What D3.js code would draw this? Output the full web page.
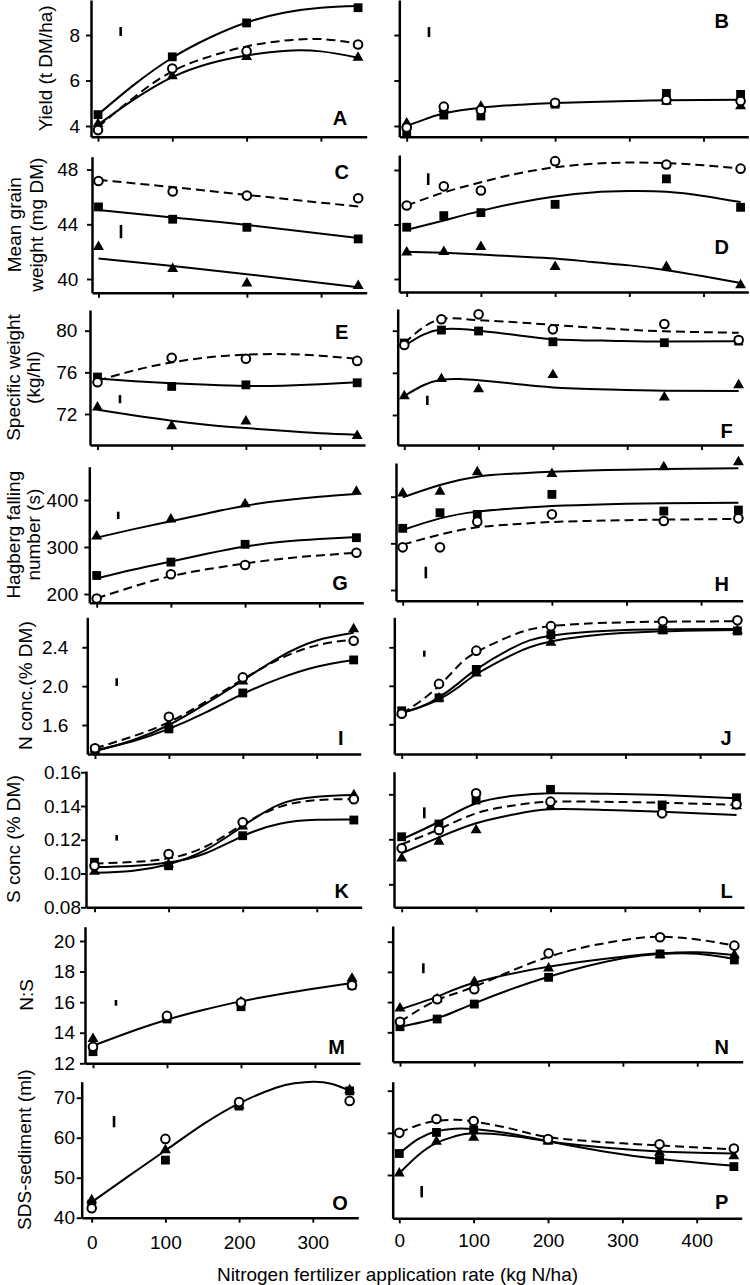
<!DOCTYPE html>
<html><head><meta charset="utf-8">
<script src="https://cdn.jsdelivr.net/npm/d3@7"></script>
<style>
body{margin:0;background:#fff;}
svg{display:block;font-family:"Liberation Sans",Arial,Helvetica,sans-serif;}
</style></head><body>
<svg id="chart" width="750" height="1285"></svg>
<script>
// ---------------- DATA ----------------
const xLeft = [0, 100, 200, 350];
const xRight = [0, 50, 100, 200, 350, 450];
const xTicksLeft = [0, 100, 200, 300];
const xTicksRight = [0, 100, 200, 300, 400];
const xTitle = "Nitrogen fertilizer application rate (kg N/ha)";

// A  Yield (t DM/ha)
const A_sq = [4.5, 7.04, 8.53, 9.2];
const A_ci = [3.82, 6.53, 7.29, 7.58];
const A_tr = [4.09, 6.19, 7.04, 7.01];
const A_fitX = [0, 50, 100, 150, 200, 250, 300, 350];
const A_fitSq = [4.5, 5.85, 7.0, 7.88, 8.55, 8.98, 9.2, 9.27];
const A_fitCi = [3.95, 5.3, 6.4, 7.05, 7.5, 7.75, 7.82, 7.62];
const A_fitTr = [4.05, 5.2, 6.15, 6.75, 7.1, 7.3, 7.28, 7.0];
const A_lsd = [30.5, 7.96, 8.35];
// B
const B_sq = [3.68, 4.48, 4.44, 4.96, 5.43, 5.39];
const B_ci = [3.93, 4.85, 4.7, 5.02, 5.14, 5.1];
const B_tr = [4.12, 4.75, 4.85, 4.98, 5.07, 4.88];
const B_fitX = [0, 25, 50, 100, 150, 200, 300, 350, 450];
const B_fit = [4.0, 4.3, 4.55, 4.8, 4.93, 5.01, 5.1, 5.13, 5.15];
const B_lsd = [30, 7.91, 8.35];
// C  Mean grain weight
const C_sq = [45.27, 44.37, 43.78, 42.93];
const C_ci = [47.17, 46.4, 46.1, 45.9];
const C_tr = [42.36, 40.75, 39.68, 39.5];
const C_fitX = [0, 100, 200, 350];
const C_fitSq = [45.05, 44.5, 43.95, 43.0];
const C_fitCi = [47.25, 46.72, 46.15, 45.3];
const C_fitTr = [41.5, 40.95, 40.35, 39.4];
const C_lsd = [30.3, 42.98, 43.95];
// D
const D_sq = [43.8, 44.65, 44.87, 45.48, 47.35, 45.26];
const D_ci = [45.4, 46.8, 46.5, 48.65, 48.4, 48.1];
const D_tr = [41.96, 42.0, 42.36, 40.9, 40.9, 39.55];
const D_fitX = [0, 50, 100, 150, 200, 250, 300, 350, 400, 450];
const D_fitSq = [43.6, 44.3, 45.0, 45.6, 46.05, 46.35, 46.45, 46.4, 46.1, 45.65];
const D_fitCi = [45.4, 46.35, 47.1, 47.75, 48.2, 48.45, 48.55, 48.5, 48.35, 48.1];
const D_fitTr = [42.0, 41.92, 41.8, 41.65, 41.5, 41.25, 41.0, 40.65, 40.2, 39.7];
const D_lsd = [29, 46.9, 47.76];
// E  Specific weight
const E_sq = [75.55, 74.65, 74.8, 75.0];
const E_ci = [75.05, 77.4, 77.3, 77.1];
const E_tr = [72.64, 70.85, 71.3, 69.9];
const E_fitX = [0, 50, 100, 150, 200, 250, 300, 350];
const E_fitSq = [75.4, 75.15, 74.95, 74.8, 74.7, 74.72, 74.85, 75.05];
const E_fitCi = [75.2, 76.2, 76.95, 77.45, 77.7, 77.75, 77.6, 77.3];
const E_fitTr = [72.4, 71.85, 71.35, 70.95, 70.65, 70.38, 70.15, 70.0];
const E_lsd = [30.3, 73.03, 73.82];
// F
const F_sq = [78.83, 80.06, 79.97, 78.95, 78.86, 79.02];
const F_ci = [78.64, 81.08, 81.55, 80.13, 80.63, 79.12];
const F_tr = [73.8, 75.42, 74.47, 75.8, 73.68, 74.85];
const F_fitX = [0, 25, 50, 75, 100, 150, 200, 275, 350, 450];
const F_fitSq = [78.55, 79.6, 80.13, 80.15, 80.0, 79.6, 79.2, 79.05, 78.97, 79.0];
const F_fitCi = [78.8, 80.3, 81.1, 81.15, 81.0, 80.8, 80.55, 80.2, 79.95, 79.8];
const F_fitTr = [73.8, 74.8, 75.35, 75.42, 75.3, 74.95, 74.62, 74.42, 74.3, 74.28];
const F_lsd = [31, 72.95, 73.83];
// G  Hagberg falling number
const G_sq = [239.4, 267.9, 305.7, 319.8];
const G_ci = [190.4, 242, 261.7, 287.8];
const G_tr = [322.7, 358.9, 391.5, 418];
const G_fitX = [0, 50, 100, 150, 200, 250, 300, 350];
const G_fitSq = [233, 252, 269, 286, 301, 311, 317, 321];
const G_fitCi = [191, 216, 238, 253, 265, 275, 282, 288];
const G_fitTr = [320, 338, 355, 372, 388, 399, 407, 413];
const G_lsd = [29, 359.6, 375.1];
// H
const H_sq = [332.2, 365.6, 362, 405, 369.2, 371.4];
const H_ci = [291.4, 291.4, 346.5, 362.2, 348, 353.6];
const H_tr = [407, 410.7, 452.6, 449, 463.3, 474];
const H_fitX = [0, 50, 100, 150, 200, 275, 350, 450];
const H_fitSq = [328.6, 353.6, 368, 375, 380, 384, 386, 387];
const H_fitCi = [297.3, 318.7, 334.4, 341, 345.8, 349, 350.8, 352.3];
const H_fitTr = [398.6, 425, 443, 449.5, 453.6, 457, 459.4, 460.8];
const H_lsd = [31, 225, 250];
// I  N conc.
const I_sq = [1.35, 1.56, 1.93, 2.27];
const I_ci = [1.36, 1.684, 2.09, 2.468];
const I_tr = [1.35, 1.6, 2.05, 2.588];
const I_fitX = [0, 50, 100, 150, 200, 250, 300, 350];
const I_fitSq = [1.34, 1.43, 1.56, 1.73, 1.92, 2.08, 2.2, 2.27];
const I_fitCi = [1.36, 1.48, 1.63, 1.84, 2.07, 2.28, 2.42, 2.48];
const I_fitTr = [1.33, 1.44, 1.6, 1.82, 2.06, 2.3, 2.47, 2.55];
const I_lsd = [29.4, 2.002, 2.081];
// J
const J_sq = [1.74, 1.875, 2.17, 2.53, 2.58, 2.57];
const J_ci = [1.71, 2.02, 2.365, 2.62, 2.67, 2.68];
const J_tr = [1.72, 1.87, 2.13, 2.45, 2.57, 2.57];
const J_fitX = [0, 25, 50, 75, 100, 150, 200, 300, 450];
const J_fitSq = [1.72, 1.78, 1.88, 2.02, 2.17, 2.4, 2.52, 2.58, 2.59];
const J_fitCi = [1.71, 1.84, 2.0, 2.2, 2.35, 2.53, 2.62, 2.66, 2.67];
const J_fitTr = [1.72, 1.78, 1.86, 1.98, 2.12, 2.33, 2.46, 2.55, 2.58];
const J_lsd = [30.3, 2.302, 2.365];
// K  S conc.
const K_sq = [0.1067, 0.1046, 0.1224, 0.1317];
const K_ci = [0.1046, 0.1116, 0.1304, 0.144];
const K_tr = [0.1011, 0.1055, 0.128, 0.1465];
const K_fitX = [0, 50, 100, 150, 200, 250, 300, 350];
const K_fitSq = [0.1038, 0.1045, 0.1065, 0.112, 0.1222, 0.1295, 0.1318, 0.132];
const K_fitCi = [0.106, 0.1068, 0.109, 0.116, 0.129, 0.1395, 0.1435, 0.144];
const K_fitTr = [0.1005, 0.1015, 0.1055, 0.114, 0.128, 0.141, 0.1455, 0.1465];
const K_lsd = [30, 0.1195, 0.1228];
// L
const L_sq = [0.1217, 0.1302, 0.1462, 0.1533, 0.1429, 0.1477];
const L_ci = [0.114, 0.1262, 0.1507, 0.1451, 0.1373, 0.1433];
const L_tr = [0.1073, 0.1184, 0.1262, 0.1417, 0.1382, 0.1422];
const L_fitX = [0, 50, 100, 150, 200, 275, 350, 450];
const L_fitSq = [0.12, 0.1317, 0.144, 0.149, 0.1507, 0.1503, 0.1495, 0.1473];
const L_fitCi = [0.1167, 0.1267, 0.1373, 0.1425, 0.1451, 0.145, 0.1444, 0.1429];
const L_fitTr = [0.1107, 0.1213, 0.1307, 0.1365, 0.14, 0.1395, 0.1384, 0.1362];
const L_lsd = [30.4, 0.134, 0.1413];
// M  N:S
const M_sq = [12.76, 14.9, 15.7, 17.1];
const M_ci = [13.08, 15.1, 15.97, 17.1];
const M_tr = [13.6, 15.0, 16.0, 17.55];
const M_fitX = [0, 50, 100, 150, 200, 250, 300, 350];
const M_fit = [13.15, 14.05, 14.85, 15.5, 16.05, 16.5, 16.9, 17.25];
const M_lsd = [31, 15.77, 16.14];
// N
const N_sq = [14.37, 14.88, 15.87, 17.64, 19.19, 18.79];
const N_ci = [14.7, 16.19, 16.85, 19.23, 20.29, 19.74];
const N_tr = [15.59, 16.2, 17.35, 18.24, 19.12, 19.12];
const N_fitX = [0, 50, 100, 200, 300, 350, 400, 450];
const N_fitSq = [14.37, 14.93, 15.92, 17.68, 18.9, 19.19, 19.2, 18.85];
const N_fitCi = [14.7, 16.14, 17.02, 19.0, 20.1, 20.33, 20.15, 19.74];
const N_fitTr = [15.52, 16.36, 17.28, 18.34, 19.0, 19.23, 19.3, 19.12];
const N_lsd = [31.4, 17.91, 18.57];
// O  SDS-sediment
const O_sq = [43.4, 54.4, 67.9, 71.7];
const O_ci = [42.35, 59.7, 68.9, 69.2];
const O_tr = [44.4, 56.9, 68.0, 71.9];
const O_fitX = [0, 50, 100, 150, 200, 250, 275, 300, 325, 350];
const O_fit = [43.9, 50.4, 56.8, 63.2, 68.6, 72.5, 73.6, 74.0, 73.5, 71.8];
const O_lsd = [30.3, 62.6, 65.4];
// P
const P_sq = [55.1, 60.1, 60.7, 58.3, 53.6, 52.0];
const P_ci = [60.0, 63.3, 62.8, 58.5, 57.3, 56.3];
const P_tr = [50.4, 57.9, 58.9, 58.0, 55.3, 54.5];
const P_fitX = [0, 25, 50, 75, 100, 150, 200, 275, 350, 450];
const P_fitSq = [55.1, 58.5, 60.4, 61.0, 60.9, 59.8, 58.0, 55.6, 53.8, 52.2];
const P_fitCi = [60.0, 61.8, 62.8, 63.1, 62.7, 61.0, 59.0, 57.8, 57.0, 56.1];
const P_fitTr = [50.4, 54.6, 57.6, 59.2, 59.9, 59.3, 58.0, 56.5, 55.6, 55.1];
const P_lsd = [30.1, 44.7, 47.4];

const yTitles = [
  {panel: "A", lines: ["Yield (t DM/ha)"], x: [51.5]},
  {panel: "C", lines: ["Mean grain", "weight (mg DM)"], x: [21, 42.5]},
  {panel: "E", lines: ["Specific weight", "(kg/hl)"], x: [20, 40.3]},
  {panel: "G", lines: ["Hagberg falling", "number (s)"], x: [20, 40]},
  {panel: "I", lines: ["N conc.(% DM)"], x: [32.3]},
  {panel: "K", lines: ["S conc (% DM)"], x: [19.5]},
  {panel: "M", lines: ["N:S"], x: [32.8]},
  {panel: "O", lines: ["SDS-sediment (ml)"], x: [31]}
];

// ---------------- LAYOUT ----------------
const layout = [
 {id:"A", col:0, top:0, bottom:136.7, axisX:91, xEnd:366.7, x0:98, per100:74.3, yRef:[8,35,4,126], yTicks:[4,6,8], fmt:"d", labelRight:80, letter:[340,118]},
 {id:"B", col:1, top:0, bottom:136.7, axisX:399.3, xEnd:748.3, x0:406.7, per100:74.2, yRef:[8,35,4,126], yTicks:[4,6,8], letter:[721.7,20.7]},
 {id:"C", col:0, top:156.7, bottom:292.7, axisX:92, xEnd:366.7, x0:98.5, per100:74.2, yRef:[48,169.6,40,279], yTicks:[40,44,48], fmt:"d", labelRight:78.3, letter:[341.7,171.7]},
 {id:"D", col:1, top:155, bottom:292, axisX:399.3, xEnd:748.3, x0:406.7, per100:74.2, yRef:[48,170,40,279], yTicks:[40,44,48], letter:[721.7,247.3]},
 {id:"E", col:0, top:310, bottom:445, axisX:90, xEnd:365, x0:97.5, per100:74.2, yRef:[80,330.7,72,414], yTicks:[72,76,80], fmt:"d", labelRight:77.3, letter:[341.7,331.7]},
 {id:"F", col:1, top:309, bottom:445, axisX:397.7, xEnd:743.3, x0:404.3, per100:74.3, yRef:[80,330.7,72,415], yTicks:[72,76,80], letter:[726.7,430.7]},
 {id:"G", col:0, top:466.7, bottom:602.7, axisX:89.3, xEnd:363.3, x0:96.7, per100:74.2, yRef:[400,500,200,594], yTicks:[200,300,400], fmt:"d", labelRight:78.3, letter:[340,583.3]},
 {id:"H", col:1, top:463, bottom:600.7, axisX:396, xEnd:742.7, x0:402.7, per100:74.6, yRef:[400,496.7,200,590], yTicks:[200,300,400], letter:[721.7,584]},
 {id:"I", col:0, top:617.3, bottom:754, axisX:87.3, xEnd:360.7, x0:95, per100:73.9, yRef:[2.4,647.3,1.6,725], yTicks:[1.6,2.0,2.4], fmt:".1f", labelRight:68.3, letter:[340.7,738]},
 {id:"J", col:1, top:617.3, bottom:754, axisX:394.3, xEnd:745, x0:401.7, per100:74.6, yRef:[2.4,647.3,1.6,724.3], yTicks:[1.6,2.0,2.4], letter:[726,738.3]},
 {id:"K", col:0, top:771, bottom:907.3, axisX:86, xEnd:361.7, x0:94.5, per100:74.1, yRef:[0.14,806,0.08,907.3], yTicks:[0.08,0.10,0.12,0.14,0.16], fmt:".2f", labelRight:81.7, letter:[341.7,890.7]},
 {id:"L", col:1, top:771.7, bottom:907.3, axisX:394, xEnd:744, x0:401.7, per100:74.4, yRef:[0.15,794.3,0.09,884.3], yTicks:[0.09,0.12,0.15], letter:[726.7,890.7]},
 {id:"M", col:0, top:926.7, bottom:1063.3, axisX:85, xEnd:360, x0:93, per100:74, yRef:[20,941,12,1063.3], yTicks:[12,14,16,18,20], fmt:"d", labelRight:75, letter:[336.7,1046.7]},
 {id:"N", col:1, top:926, bottom:1061.7, axisX:392.7, xEnd:742.7, x0:400, per100:74.3, yRef:[20,941.7,14,1032.3], yTicks:[14,16,18,20], letter:[721.7,1046.7]},
 {id:"O", col:0, top:1081.7, bottom:1217.7, axisX:81.7, xEnd:358.3, x0:91.7, per100:73.7, yRef:[70,1097.7,40,1217.7], yTicks:[40,50,60,70], fmt:"d", labelRight:75, letter:[340,1203.3], xLab:true, xLabTop:1235},
 {id:"P", col:1, top:1081.7, bottom:1218.3, axisX:392.7, xEnd:741.7, x0:399.3, per100:74.35, yRef:[70,1090.7,50,1175], yTicks:[50,60,70], letter:[721.7,1201.7], xLab:true, xLabTop:1233.3}
];

const D_ = {
 A:{x:xLeft, sq:A_sq, ci:A_ci, tr:A_tr, fitX:A_fitX, fits:[[A_fitSq,0],[A_fitCi,1],[A_fitTr,0]], lsd:A_lsd},
 B:{x:xRight, sq:B_sq, ci:B_ci, tr:B_tr, fitX:B_fitX, fits:[[B_fit,0]], lsd:B_lsd},
 C:{x:xLeft, sq:C_sq, ci:C_ci, tr:C_tr, fitX:C_fitX, fits:[[C_fitSq,0],[C_fitCi,1],[C_fitTr,0]], lsd:C_lsd},
 D:{x:xRight, sq:D_sq, ci:D_ci, tr:D_tr, fitX:D_fitX, fits:[[D_fitSq,0],[D_fitCi,1],[D_fitTr,0]], lsd:D_lsd},
 E:{x:xLeft, sq:E_sq, ci:E_ci, tr:E_tr, fitX:E_fitX, fits:[[E_fitSq,0],[E_fitCi,1],[E_fitTr,0]], lsd:E_lsd},
 F:{x:xRight, sq:F_sq, ci:F_ci, tr:F_tr, fitX:F_fitX, fits:[[F_fitSq,0],[F_fitCi,1],[F_fitTr,0]], lsd:F_lsd},
 G:{x:xLeft, sq:G_sq, ci:G_ci, tr:G_tr, fitX:G_fitX, fits:[[G_fitSq,0],[G_fitCi,1],[G_fitTr,0]], lsd:G_lsd},
 H:{x:xRight, sq:H_sq, ci:H_ci, tr:H_tr, fitX:H_fitX, fits:[[H_fitSq,0],[H_fitCi,1],[H_fitTr,0]], lsd:H_lsd},
 I:{x:xLeft, sq:I_sq, ci:I_ci, tr:I_tr, fitX:I_fitX, fits:[[I_fitSq,0],[I_fitCi,1],[I_fitTr,0]], lsd:I_lsd},
 J:{x:xRight, sq:J_sq, ci:J_ci, tr:J_tr, fitX:J_fitX, fits:[[J_fitSq,0],[J_fitCi,1],[J_fitTr,0]], lsd:J_lsd},
 K:{x:xLeft, sq:K_sq, ci:K_ci, tr:K_tr, fitX:K_fitX, fits:[[K_fitSq,0],[K_fitCi,1],[K_fitTr,0]], lsd:K_lsd},
 L:{x:xRight, sq:L_sq, ci:L_ci, tr:L_tr, fitX:L_fitX, fits:[[L_fitSq,0],[L_fitCi,1],[L_fitTr,0]], lsd:L_lsd},
 M:{x:xLeft, sq:M_sq, ci:M_ci, tr:M_tr, fitX:M_fitX, fits:[[M_fit,0]], lsd:M_lsd},
 N:{x:xRight, sq:N_sq, ci:N_ci, tr:N_tr, fitX:N_fitX, fits:[[N_fitSq,0],[N_fitCi,1],[N_fitTr,0]], lsd:N_lsd},
 O:{x:xLeft, sq:O_sq, ci:O_ci, tr:O_tr, fitX:O_fitX, fits:[[O_fit,0]], lsd:O_lsd},
 P:{x:xRight, sq:P_sq, ci:P_ci, tr:P_tr, fitX:P_fitX, fits:[[P_fitSq,0],[P_fitCi,1],[P_fitTr,0]], lsd:P_lsd}
};

// ---------------- DRAW ----------------
const svg = d3.select("#chart");
const TICK = 5, FS_TICK = 19, FS_TITLE = 19;

layout.forEach(p => {
  const d = D_[p.id];
  const yRaw = d3.scaleLinear().domain([p.yRef[0], p.yRef[2]]).range([p.yRef[1], p.yRef[3]]);
  const y = d3.scaleLinear().domain([yRaw.invert(p.bottom), yRaw.invert(p.top)]).range([p.bottom, p.top]);
  const xRaw = d3.scaleLinear().domain([0, 100]).range([p.x0, p.x0 + p.per100]);
  const x = d3.scaleLinear().domain([xRaw.invert(p.axisX), xRaw.invert(p.xEnd)]).range([p.axisX, p.xEnd]);
  const g = svg.append("g");

  // axes
  const yAx = d3.axisLeft(y).tickValues(p.yTicks).tickSize(TICK).tickSizeOuter(0)
    .tickPadding(p.col === 0 ? Math.max(0, p.axisX - TICK - p.labelRight) : 3)
    .tickFormat(p.col === 0 ? d3.format(p.fmt) : () => "");
  const gy = g.append("g").attr("transform", `translate(${p.axisX},0)`).call(yAx);
  const xTicks = p.col === 0 ? xTicksLeft : xTicksRight;
  const xAx = d3.axisBottom(x).tickValues(xTicks).tickSize(TICK).tickSizeOuter(0)
    .tickPadding(p.xLab ? (p.xLabTop - p.bottom - TICK) : 3)
    .tickFormat(p.xLab ? d3.format("d") : () => "");
  const gx = g.append("g").attr("transform", `translate(0,${p.bottom})`).call(xAx);
  [gx, gy].forEach(a => {
    a.select(".domain").attr("stroke", "#000").attr("stroke-width", 2.5);
    a.selectAll(".tick line").attr("stroke", "#000").attr("stroke-width", 1.9);
    a.selectAll(".tick text").attr("font-size", FS_TICK).attr("fill", "#000")
      .attr("font-family", '"Liberation Sans",Arial,sans-serif');
  });
  gx.selectAll(".tick text").attr("dy", "0.72em");

  // fitted curves
  const line = d3.line().curve(d3.curveNatural).x(q => x(q[0])).y(q => y(q[1]));
  d.fits.forEach(([vals, dashed]) => {
    g.append("path").datum(d.fitX.map((xv, i) => [xv, vals[i]]))
      .attr("d", line).attr("fill", "none").attr("stroke", "#000")
      .attr("stroke-width", 2).attr("stroke-dasharray", dashed ? "9,5" : null);
  });

  // LSD bar
  g.append("line").attr("x1", x(d.lsd[0])).attr("x2", x(d.lsd[0]))
    .attr("y1", y(d.lsd[1])).attr("y2", y(d.lsd[2]))
    .attr("stroke", "#000").attr("stroke-width", 2.6);

  // markers
  const sqSym = d3.symbol(d3.symbolSquare, 78);
  const trSym = d3.symbol(d3.symbolTriangle, 52);
  g.selectAll(".sq").data(d.x.map((xv, i) => [xv, d.sq[i]])).join("path")
    .attr("d", sqSym).attr("transform", q => `translate(${x(q[0])},${y(q[1])})`).attr("fill", "#000");
  g.selectAll(".tr").data(d.x.map((xv, i) => [xv, d.tr[i]])).join("path")
    .attr("d", trSym).attr("transform", q => `translate(${x(q[0])},${y(q[1])})`).attr("fill", "#000");
  g.selectAll(".ci").data(d.x.map((xv, i) => [xv, d.ci[i]])).join("circle")
    .attr("cx", q => x(q[0])).attr("cy", q => y(q[1])).attr("r", 4.3)
    .attr("fill", "#fff").attr("stroke", "#000").attr("stroke-width", 2);

  // panel letter
  g.append("text").attr("x", p.letter[0]).attr("y", p.letter[1] + 7)
    .attr("text-anchor", "middle").attr("font-weight", "bold").attr("font-size", 20)
    .text(p.id);
});

// y titles
yTitles.forEach(t => {
  const p = layout.find(l => l.id === t.panel);
  const cy = (p.top + p.bottom) / 2;
  t.lines.forEach((ln, i) => {
    svg.append("text").attr("transform", `translate(${t.x[i]},${cy}) rotate(-90)`)
      .attr("text-anchor", "middle").attr("font-size", FS_TITLE).text(ln);
  });
});

// x title
svg.append("text").attr("x", 397.5).attr("y", 1281).attr("text-anchor", "middle")
  .attr("font-size", FS_TITLE).text(xTitle);
</script>
</body></html>
